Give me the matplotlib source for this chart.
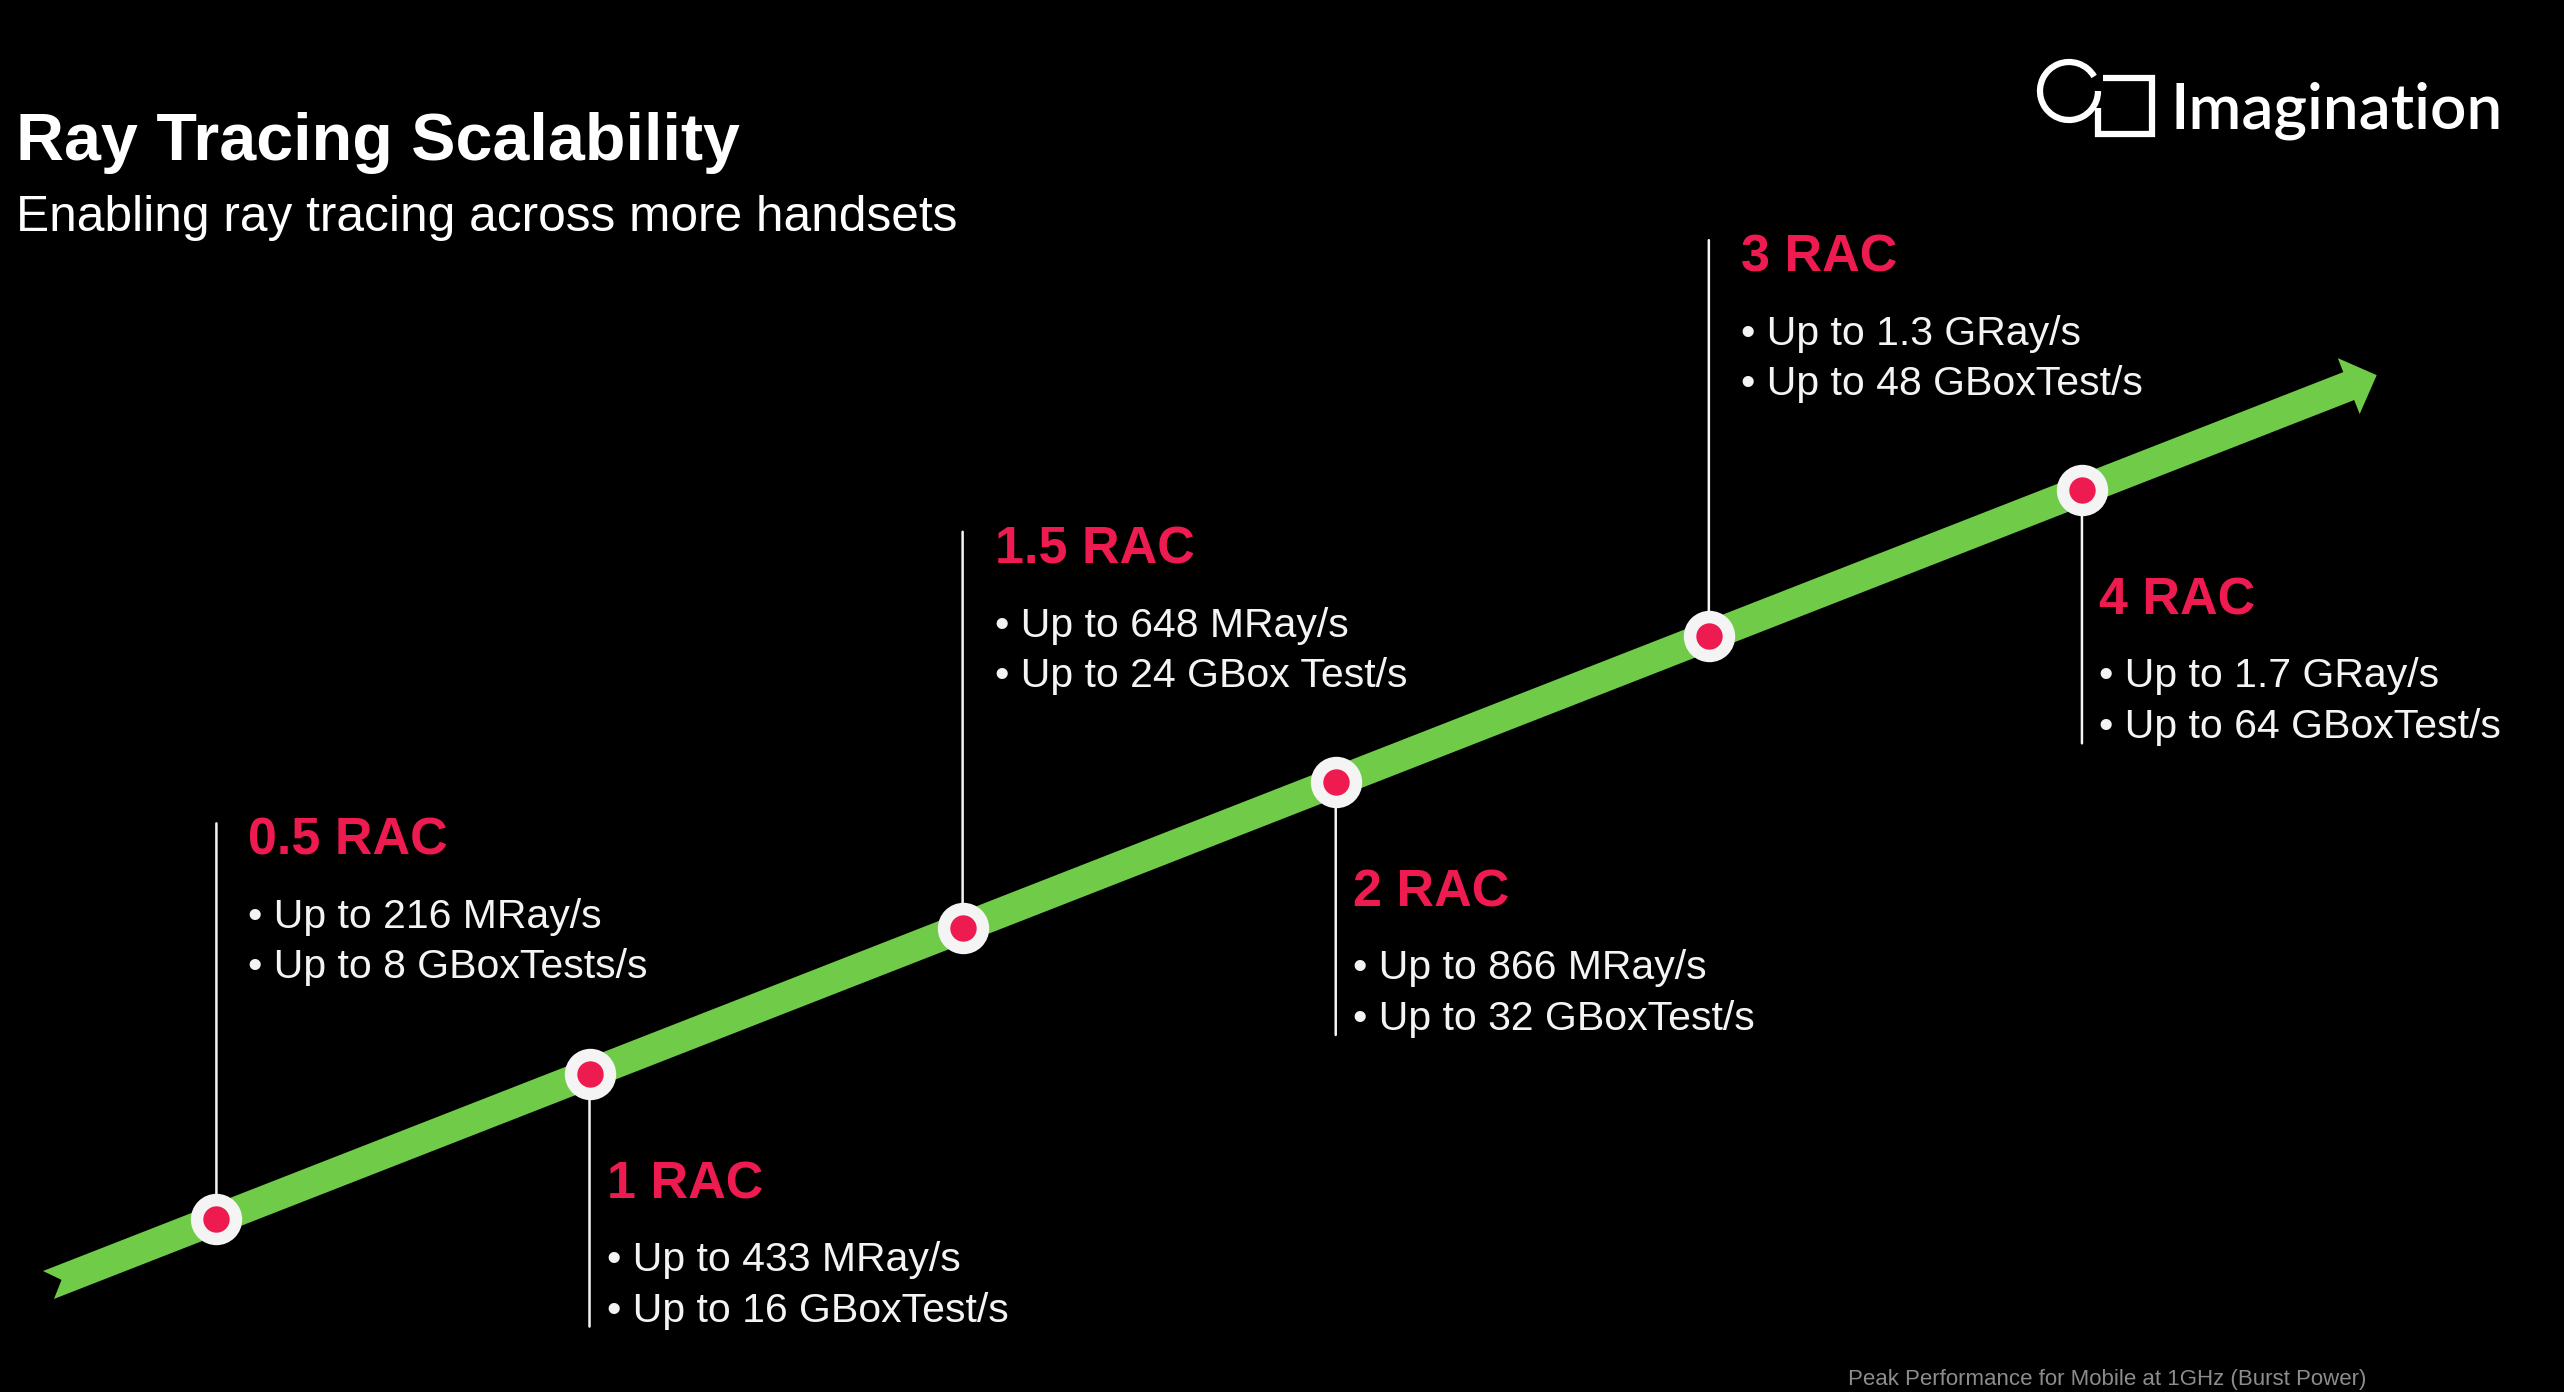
import numpy as np
import matplotlib
matplotlib.use("Agg")
import matplotlib.pyplot as plt
from matplotlib.patches import Polygon, Arc

plt.rcParams['font.family'] = ['Liberation Sans', 'DejaVu Sans']

# data
racs = ["0.5 RAC", "1 RAC", "1.5 RAC", "2 RAC", "3 RAC", "4 RAC"]
ray_rate = ["216 MRay/s", "433 MRay/s", "648 MRay/s", "866 MRay/s", "1.3 GRay/s", "1.7 GRay/s"]
box_rate = ["8 GBoxTests/s", "16 GBoxTest/s", "24 GBox Test/s", "32 GBoxTest/s",
            "48 GBoxTest/s", "64 GBoxTest/s"]
side = [1, -1, 1, -1, 1, -1]   # label above (1) or below (-1) the arrow

title = "Ray Tracing Scalability"
subtitle = "Enabling ray tracing across more handsets"
footnote = "Peak Performance for Mobile at 1GHz (Burst Power)"

GREEN = "#70cc48"
RED = "#ee1b50"
WHITE = "#f4f4f4"

W, H = 2564, 1392
fig = plt.figure(figsize=(W / 100, H / 100), dpi=100, facecolor="black")

ax = fig.add_axes([0, 0, 1, 1])
ax.set_xlim(-0.580, 6.292)
ax.set_ylim(-1.184, 8.363)
ax.axis("off")

idx = np.arange(len(racs))

# green arrow band built in pixel space along the line through the points
arrow_start, arrow_end = -0.45, 5.79
fig.canvas.draw()
S = ax.transData.transform((arrow_start, arrow_start))
E = ax.transData.transform((arrow_end, arrow_end))
u = (E - S) / np.linalg.norm(E - S)
n = np.array([-u[1], u[0]])
L = np.linalg.norm(E - S)
h, head_len, head_w, notch = 15, 30, 30, 14
pts_un = [(0, h), (L - head_len, h), (L - head_len, head_w), (L, 0),
          (L - head_len, -head_w), (L - head_len, -h), (0, -h), (notch, 0)]
pts = np.array([S + a * u + b * n for a, b in pts_un])
pts = ax.transData.inverted().transform(pts)
ax.add_patch(Polygon(pts, closed=True, facecolor=GREEN, edgecolor="none", zorder=2))

# leader lines and labels
for i in idx:
    s = side[i]
    line_len = 396 if s > 0 else 253
    ax.annotate("", xy=(i, i), xytext=(0, s * line_len), textcoords="offset pixels",
                arrowprops=dict(arrowstyle="-", color=WHITE, lw=1.8,
                                shrinkA=0, shrinkB=0), zorder=1)
    if s > 0:
        dx, dys = 32, (378, 302, 252)
    else:
        dx, dys = 17, (-111, -186, -237)
    ax.annotate(racs[i], xy=(i, i), xytext=(dx, dys[0]), textcoords="offset pixels",
                va="center", ha="left", color=RED, fontsize=37.5, fontweight="bold")
    ax.annotate("\u2022 Up to " + ray_rate[i], xy=(i, i), xytext=(dx, dys[1]),
                textcoords="offset pixels", va="center", ha="left",
                color=WHITE, fontsize=29.5)
    ax.annotate("\u2022 Up to " + box_rate[i], xy=(i, i), xytext=(dx, dys[2]),
                textcoords="offset pixels", va="center", ha="left",
                color=WHITE, fontsize=29.5)

# dots
ax.plot(idx, idx, "o", ms=37, mfc=WHITE, mec="none", zorder=3)
ax.plot(idx, idx, "o", ms=19, mfc=RED, mec="none", zorder=4)

# overlay in pixel coordinates for title, logo, footnote
pax = fig.add_axes([0, 0, 1, 1])
pax.set_xlim(0, W)
pax.set_ylim(H, 0)
pax.axis("off")
pax.patch.set_visible(False)

pax.text(16, 160, title, color="white", fontsize=47.8, fontweight="bold", va="baseline")
pax.text(16, 231, subtitle, color="white", fontsize=35.7, va="baseline")
pax.text(2366, 1385, footnote, color="#8c8c8c", fontsize=16, ha="right", va="baseline")

# logo
pax.add_patch(Arc((2069, 91), 58, 58, theta1=0, theta2=330, color="white", lw=4.5))
pax.plot([2103, 2152, 2152, 2098, 2098], [78, 78, 134, 134, 108], color="white",
         lw=4.5, solid_joinstyle="miter", solid_capstyle="butt")
pax.text(2170, 128, "Imagination", color="white", fontsize=46, fontfamily="Lato",
         fontweight="semibold", va="baseline")

fig.savefig("out.png", dpi=100, facecolor="black")
